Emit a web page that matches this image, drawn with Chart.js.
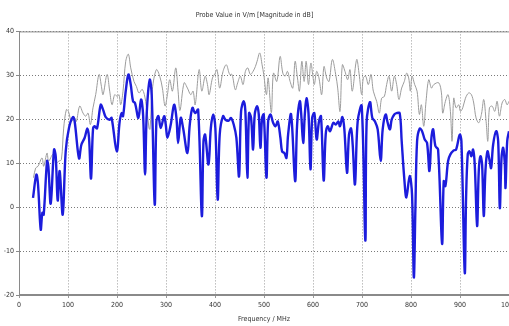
<!DOCTYPE html>
<html lang="en">
<head>
    <meta charset="UTF-8">
    <title>Probe Value</title>
    <style>
        body {
            margin: 0;
            padding: 0;
            background: #ffffff;
        }
        .chart-box {
            width: 509px;
            height: 326px;
        }
    </style>
</head>
<body>
    <div class="chart-box">
        <canvas id="chart" width="509" height="326"></canvas>
    </div>
    <script src="https://cdn.jsdelivr.net/npm/chart.js"></script>
    <script>
        const chartTitle = 'Probe Value in V/m [Magnitude in dB]';
        const xTitle = 'Frequency / MHz';
        const xTicks = [0, 100, 200, 300, 400, 500, 600, 700, 800, 900, 1000];
        const yTicks = [-20, -10, 0, 10, 20, 30, 40];

        // blue trace (MHz / dB)
        const blueFreq = [28.6, 35.4, 38.8, 44.3, 47.7, 50.4, 57.2, 59.9, 64.7, 71.5, 74.9, 79, 83, 89.2, 95.3, 102, 110.2, 113.6, 122.5, 127.3, 134, 139.5, 142.9, 147, 151, 154.5, 159.2, 166.7, 171.5, 177, 185, 189, 199.4, 205.5, 209.6, 212.3, 217.8, 223.2, 228, 232.7, 236.8, 243.6, 249.1, 253.2, 257.3, 260.6, 266.8, 270.8, 277, 280.4, 284.5, 289.3, 296.1, 299.5, 302.9, 309.7, 316.5, 321.3, 324.7, 330.1, 334.9, 343.7, 348.5, 354, 359.5, 365.6, 373.1, 376.5, 379.9, 386.7, 391.5, 396.3, 400.7, 405.5, 409.6, 416.4, 421.2, 428, 432.7, 438.2, 443.6, 449.1, 453.2, 458.6, 462, 466.1, 469.5, 473.6, 477.7, 481.1, 485.9, 489.3, 492.7, 496.1, 499.5, 505, 508.4, 513.2, 518.6, 523.4, 528.1, 533.5, 536.9, 541.7, 545.8, 549.2, 555.3, 563.5, 567.6, 573.1, 575.8, 579.9, 583.3, 586.7, 590.8, 594.9, 598.3, 602.7, 607.5, 612.2, 616.3, 621.8, 625.9, 630, 634.7, 641.5, 646.3, 651.7, 655.1, 659.9, 664, 669.4, 673.5, 677.6, 681, 685.7, 691.2, 699.4, 706.8, 709.5, 716.3, 721.1, 726.5, 732, 738.1, 742.2, 748.3, 752.4, 757.1, 760.5, 765.9, 770.7, 776.9, 781, 786.3, 790.6, 797.3, 802.1, 805.8, 809, 812.4, 817.8, 822.6, 828, 832.8, 837.6, 841.7, 845.1, 849.8, 855.3, 863.4, 866.8, 870.2, 875.7, 880.4, 887.2, 892, 899.5, 902.9, 909.7, 912.4, 915.8, 919.2, 923.3, 926.7, 930.1, 934.9, 938.3, 941.7, 945.1, 948.5, 951.9, 956, 960.1, 963.5, 967.6, 973.8, 977.9, 981.3, 984.7, 988.1, 991.5, 992.9, 996.3, 1000];
        const blueDb = [2.1, 7.4, 5.2, -5.1, -1.3, -1.7, 10.5, 9.3, 0.8, 13.1, 11.6, 1.5, 8.2, -1.7, 12.7, 18, 20.5, 19.5, 11.1, 14.2, 15.8, 17.9, 15.8, 6.5, 17.7, 18.4, 17.9, 23.3, 22.2, 20.5, 19.9, 20.3, 12.7, 19.5, 21.4, 20.7, 26.4, 30.2, 27.9, 24.1, 23.7, 20.3, 24.5, 21.1, 7.4, 21.1, 29, 25.6, 0.6, 19.5, 20.7, 18, 20.7, 18.8, 15.8, 18.8, 23.3, 20.3, 14.6, 20.3, 18, 12.3, 18.8, 22.6, 21.4, 22.2, -2, 15, 16.5, 9.7, 18, 21.1, 18, 1.7, 16.5, 20.7, 19.9, 19.7, 20.3, 18.8, 15.8, 7, 21.8, 24.1, 21.8, 6.7, 21.4, 20.3, 13.1, 21.1, 23, 21.1, 13.5, 20.3, 21.1, 6.7, 19.5, 21.1, 19.2, 18.4, 19.5, 15.8, 12.7, 12.3, 11.2, 16.5, 21.1, 5.9, 18.8, 24.1, 21.4, 14.6, 21.1, 24.8, 21.4, 8.6, 20.3, 21.4, 15.4, 19.5, 20.7, 6.1, 16.5, 18.4, 17.3, 19.2, 18.8, 19.5, 18.4, 20.5, 17.7, 7.8, 16.5, 17.9, 14.2, 5.2, 19.5, 23, -7.6, 19.5, 23.9, 20.3, 19.5, 17.7, 10.5, 17.7, 21.1, 19.2, 17.7, 19.9, 21.1, 21.4, 21.4, 15, 6.5, 2.2, 7.1, 2.9, -16, -0.2, 15, 17.9, 17.3, 15.4, 14.6, 8.2, 15.8, 17.7, 13.9, 13.1, -8.3, 5.9, 4.8, 10.5, 12, 12.9, 13.1, 16.5, 15, -14.9, 2.1, 12, 12.7, 11.6, 13.1, 9.7, -4.3, 8.2, 11.6, 9.7, -2, 8.2, 12.7, 10.8, 8.9, 14.2, 17.3, 15, -0.2, 11.2, 13.5, 9.7, 4.4, 15, 17.3];

        // gray trace (MHz / dB)
        const grayFreq = [29.6, 34, 38.8, 47, 50.4, 57.2, 60.6, 69.4, 76.2, 81.7, 86.5, 91.2, 96.7, 100.8, 107, 113.6, 117, 123.9, 130.7, 136.1, 140.9, 145.7, 151, 156.5, 163.4, 168.2, 171.5, 179.7, 185.1, 189.9, 195.3, 200.7, 204.1, 207.5, 212.3, 217.8, 223.2, 228, 234.7, 239.5, 244.9, 251.7, 258.5, 265.3, 267.4, 272.2, 280.4, 287.2, 292.6, 298.1, 302.9, 307.6, 313.1, 319.9, 324.7, 328.5, 337, 343.7, 350.5, 355.3, 359.5, 367.6, 373.1, 379.9, 384.6, 388, 394.8, 400, 404.1, 409.6, 416.4, 423.1, 430, 434.7, 441.5, 446.3, 451.7, 457.2, 462, 466.8, 472.2, 477.7, 482.4, 485.9, 491.3, 496.1, 499.5, 505, 508.4, 515, 519.3, 526.1, 532.9, 538.4, 543.1, 547.9, 553.3, 558.8, 563.5, 568.3, 572.4, 577.2, 581.9, 586, 590.8, 595.6, 600, 602.7, 607.5, 612.2, 617.7, 622.4, 627.9, 632.7, 639.5, 646.3, 650.4, 655.1, 659.9, 665.3, 670.7, 675.5, 680.2, 689.1, 693.9, 699.4, 702.7, 707.5, 712.9, 718.4, 723.1, 729.9, 735.4, 740.1, 745.6, 750.3, 755.1, 760.5, 766, 770.7, 775.4, 780.9, 786.3, 791.1, 795.3, 798.7, 802.1, 807.5, 812.4, 817.1, 821.2, 826, 830.7, 836.2, 841.7, 846.5, 856.6, 862.1, 864.8, 870.2, 875.7, 880.4, 883.8, 887.2, 892, 897.5, 900.9, 905.6, 911.1, 917.8, 923.3, 928, 932.8, 938.3, 943.7, 948.5, 953.3, 956.7, 960.1, 965.5, 971, 975.7, 980.5, 985.9, 991.3, 996.1, 1000];
        const grayDb = [6.7, 8.9, 9.3, 11.2, 9.3, 12.3, 10.5, 12, 10.1, 10.5, 10.8, 18, 22.2, 21.8, 19.5, 20.3, 19.5, 23, 21.4, 20.7, 21.4, 18.8, 22.6, 25.6, 30.2, 27.5, 25.6, 30.2, 26.4, 23.3, 25.6, 25.2, 25.6, 23.3, 26.4, 33.2, 34.8, 31.7, 28.6, 27.5, 26, 26.8, 24.1, 18, 17.7, 26.8, 31.3, 29.8, 27.1, 23, 25.6, 29, 26.4, 31.7, 26.4, 22, 28.3, 27.1, 25.6, 26.4, 23.3, 31.3, 26.4, 29.8, 27.9, 25.6, 29.4, 30.4, 31.3, 27.1, 30.9, 32.4, 30.2, 30.2, 26.7, 28.3, 29.8, 27.9, 30.9, 31.7, 30.2, 30.9, 32, 33.2, 35.1, 32.4, 30.2, 25.6, 29.4, 21.5, 30.5, 28.6, 34.3, 30.5, 29.8, 30.9, 28.6, 27.1, 33.2, 29.4, 26.4, 33.2, 28.6, 33.2, 27.9, 32.8, 29.6, 27.9, 30.9, 29.4, 25.6, 32, 29.4, 28.6, 33.6, 30.2, 27.1, 21.8, 32.4, 30.9, 29, 31.3, 26.4, 33.6, 30.5, 25.6, 29.4, 29.8, 27.9, 30.2, 26.4, 24.1, 21.4, 24.8, 25.2, 27.9, 29.8, 26.4, 29.8, 27.9, 24.5, 27.1, 28.6, 30.5, 29.4, 26.4, 29.8, 27.9, 26.4, 21.1, 23.3, 18.4, 24.1, 29, 27.1, 27.9, 28.3, 26, 21.4, 24.1, 25.6, 21.8, 15, 24.8, 22.6, 23.3, 21.8, 22.6, 24.8, 26, 25.6, 23.7, 20.3, 19.2, 21.1, 24.5, 19.5, 15, 22.6, 23, 21.8, 24.1, 20.7, 23.7, 24.5, 23.3, 24.1];

        const toPoints = (xs, ys) => xs.map((x, i) => ({ x: x, y: ys[i] }));

        const txtFont = { family: "'Liberation Sans Narrow', 'DejaVu Sans Condensed', 'Liberation Sans', sans-serif", size: 7 };

        // solid frame round the plot area
        const frame = {
            id: 'frame',
            afterDraw(chart) {
                const a = chart.chartArea;
                const ctx = chart.ctx;
                ctx.save();
                ctx.strokeStyle = '#8a8a8a';
                ctx.lineWidth = 1;
                ctx.beginPath();
                ctx.moveTo(a.left, a.top + 0.5);
                ctx.lineTo(a.right, a.top + 0.5);
                ctx.moveTo(a.left, a.bottom - 0.5);
                ctx.lineTo(a.right, a.bottom - 0.5);
                ctx.moveTo(a.left + 0.5, a.top);
                ctx.lineTo(a.left + 0.5, a.bottom);
                ctx.stroke();
                ctx.restore();
            }
        };

        new Chart(document.getElementById('chart'), {
            type: 'line',
            data: {
                datasets: [
                    {
                        data: toPoints(blueFreq, blueDb),
                        borderColor: '#1c1cdc',
                        borderWidth: 2.4,
                        pointRadius: 0,
                        tension: 0.35,
                        fill: false
                    },
                    {
                        data: toPoints(grayFreq, grayDb),
                        borderColor: '#9c9c9c',
                        borderWidth: 1,
                        pointRadius: 0,
                        tension: 0.35,
                        fill: false
                    }
                ]
            },
            options: {
                responsive: false,
                animation: false,
                layout: { padding: { left: 0, right: 0, top: 0, bottom: 0 } },
                plugins: {
                    legend: { display: false },
                    tooltip: { enabled: false },
                    title: {
                        display: true,
                        text: chartTitle,
                        color: '#333',
                        font: { family: txtFont.family, size: 7, weight: 'normal' },
                        padding: { top: 11, bottom: 12 }
                    }
                },
                scales: {
                    x: {
                        type: 'linear',
                        min: 0,
                        max: 1000,
                        afterBuildTicks: s => { s.ticks = xTicks.map(v => ({ value: v })); },
                        afterFit: s => { s.height = 31; s.paddingLeft = 0; s.paddingRight = 0; },
                        ticks: { color: '#333', font: txtFont, padding: 3, maxRotation: 0, callback: v => String(v) },
                        grid: { color: '#9a9a9a', tickLength: 3, tickColor: '#9a9a9a' },
                        border: { display: true, color: '#8a8a8a', dash: [1, 2] },
                        title: {
                            display: true,
                            text: xTitle,
                            color: '#333',
                            font: txtFont,
                            padding: { top: 0, bottom: 3 }
                        }
                    },
                    y: {
                        min: -20,
                        max: 40,
                        afterBuildTicks: s => { s.ticks = yTicks.map(v => ({ value: v })); },
                        afterFit: s => { s.width = 19; },
                        ticks: { color: '#333', font: txtFont, padding: 2, callback: v => String(v) },
                        grid: { color: '#7a7a7a', tickLength: 3, tickColor: '#8a8a8a' },
                        border: { display: true, color: '#8a8a8a', dash: [1, 2] }
                    }
                }
            },
            plugins: [frame]
        });
    </script>
</body>
</html>
